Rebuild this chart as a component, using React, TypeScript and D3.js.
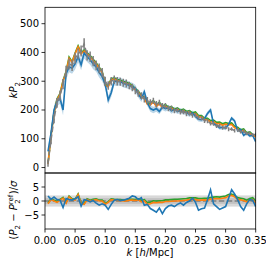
import * as d3 from 'd3';

// wavenumber grid [h/Mpc]
const kVals = [
  0.005, 0.01, 0.015, 0.02, 0.025, 0.03, 0.035, 0.04, 0.045, 0.05,
  0.055, 0.06, 0.065, 0.07, 0.075, 0.08, 0.085, 0.09, 0.095, 0.1,
  0.105, 0.11, 0.115, 0.12, 0.125, 0.13, 0.135, 0.14, 0.145, 0.15,
  0.155, 0.16, 0.165, 0.17, 0.175, 0.18, 0.185, 0.19, 0.195, 0.2,
  0.205, 0.21, 0.215, 0.22, 0.225, 0.23, 0.235, 0.24, 0.245, 0.25,
  0.255, 0.26, 0.265, 0.27, 0.275, 0.28, 0.285, 0.29, 0.295, 0.3,
  0.305, 0.31, 0.315, 0.32, 0.325, 0.33, 0.335, 0.34, 0.345, 0.35,
];

// reference kP2 (grey, dashed with error bars)
const refP2 = [
  15, 95, 170, 225, 250, 290, 335, 360, 355, 380,
  395, 405, 430, 390, 385, 370, 355, 345, 330, 300,
  285, 300, 305, 300, 298, 295, 292, 285, 278, 268,
  258, 250, 238, 234, 226, 232, 220, 226, 214, 214,
  206, 206, 198, 200, 193, 194, 187, 189, 181, 182,
  173, 172, 163, 162, 153, 152, 144, 145, 138, 140,
  133, 134, 128, 130, 124, 126, 118, 120, 114, 115,
];

const sigma = [
  12, 14, 16, 17, 18, 18, 19, 19, 19, 19,
  19, 19, 19, 18, 18, 18, 17, 17, 16, 16,
  15, 15, 15, 15, 14, 14, 14, 13, 13, 13,
  12, 12, 12, 11, 11, 11, 11, 10, 10, 10,
  10, 10, 9, 9, 9, 9, 9, 9, 8, 8,
  8, 8, 8, 8, 7, 7, 7, 7, 7, 7,
  7, 6, 6, 6, 6, 6, 6, 6, 6, 6,
];

const orangeP2 = [
  12, 110, 190, 235, 255, 300, 330, 380, 365, 395,
  420, 395, 405, 395, 385, 372, 360, 345, 330, 285,
  280, 305, 308, 302, 300, 295, 292, 288, 282, 270,
  262, 245, 240, 220, 218, 228, 212, 222, 208, 214,
  204, 207, 198, 202, 194, 198, 190, 193, 185, 188,
  176, 176, 166, 166, 158, 160, 152, 153, 147, 151,
  148, 150, 138, 135, 126, 129, 116, 119, 110, 108,
];

const greenP2 = [
  14, 112, 192, 238, 258, 303, 334, 384, 368, 398,
  423, 398, 409, 399, 389, 376, 364, 349, 334, 289,
  284, 309, 312, 306, 304, 299, 296, 292, 286, 274,
  266, 250, 245, 225, 223, 233, 217, 227, 213, 219,
  209, 212, 203, 207, 199, 203, 195, 198, 190, 193,
  181, 181, 171, 171, 163, 165, 157, 158, 152, 156,
  153, 155, 143, 140, 131, 134, 121, 124, 115, 113,
];

const blueP2 = [
  56, 120, 200, 230, 240, 200, 325, 350, 345, 360,
  385, 357, 398, 385, 375, 360, 350, 330, 316, 290,
  235, 260, 300, 298, 300, 292, 290, 285, 282, 275,
  255, 240, 263, 225, 205, 200, 205, 195, 210, 205,
  208, 197, 202, 195, 198, 193, 192, 185, 190, 178,
  168, 166, 170, 188, 200, 152, 148, 138, 140, 137,
  150, 172, 162, 128, 132, 112, 120, 110, 112, 90,
];

// normalised residuals (P2 - P2ref)/sigma
const blueRes = [
  1.8, 0.6, 1.4, 0.5, 0.3, -2.3, 0.9, 0.5, 0.3, 0.8,
  1.5, -1.8, 0.5, 0.3, -0.3, 0.2, -0.8, -1.5, -1.0, -1.5,
  -3.0, -1.2, 0.3, 0.5, 0.2, 0.3, 0.6, 1.0, 1.8, 1.5,
  0.5, 1.2, -1.5, -1.2, -2.7, -3.3, -4.0, -2.5, -4.5, -2.7,
  -1.8, -1.5, -2.0, -1.2, -0.7, -1.5, -0.5, 0.0, 1.0, -0.5,
  -3.3, -2.8, -2.5, 0.5, 4.0, -1.0, -2.0, -3.0, -2.5, -2.0,
  1.0, 4.0, 2.5, 0.5, -2.0, -3.3, -1.0, 0.5, 0.3, -2.0,
];

const orangeRes = [
  -1.0, 0.5, 0.0, -0.5, 0.3, 1.0, -0.8, 1.5, 0.5, 0.3,
  2.3, -1.0, -1.2, 0.5, 0.0, 0.3, 0.5, 0.0, 0.0, -1.2,
  -0.5, 0.5, 0.3, 0.2, 0.2, 0.0, 0.0, 0.3, 0.3, 0.2,
  0.4, -0.3, 0.0, -1.2, -1.0, -0.5, -0.6, -0.5, -0.5, -0.2,
  -0.2, -0.1, 0.0, 0.0, 0.1, 0.2, 0.3, 0.5, 0.5, 0.5,
  0.3, 0.3, 0.4, 0.3, 0.6, 0.8, 0.9, 0.8, 1.0, 1.2,
  1.8, 2.0, 1.5, 0.6, 0.4, 0.2, -0.3, 0.3, 0.5, -0.8,
];

const greenRes = [
  -0.7, 0.8, 0.3, -0.2, 0.6, 1.3, -0.5, 1.8, 0.8, 0.6,
  2.5, -0.7, -0.9, 0.8, 0.3, 0.6, 0.8, 0.3, 0.3, -0.9,
  -0.2, 0.8, 0.6, 0.5, 0.5, 0.3, 0.3, 0.6, 0.6, 0.5,
  0.8, 0.2, 0.5, -0.6, -0.4, 0.1, 0.0, 0.1, 0.1, 0.4,
  0.4, 0.5, 0.6, 0.6, 0.7, 0.8, 0.9, 1.1, 1.1, 1.1,
  0.9, 0.9, 1.0, 1.0, 1.2, 1.4, 1.5, 1.4, 1.6, 1.8,
  2.3, 2.5, 2.0, 1.2, 1.0, 0.8, 0.3, 0.9, 1.2, 0.0,
];

const xTicks = [0, 0.05, 0.1, 0.15, 0.2, 0.25, 0.3, 0.35];
const yTopTicks = [0, 100, 200, 300, 400, 500];
const yResTicks = [-5, 0, 5];

const BLUE = '#1f77b4';
const ORANGE = '#ff7f0e';
const GREEN = '#2ca02c';
const GREY = '#7f7f7f';

const left = 45;
const right = 255.7;
const topY = 7.3;
const midY = 173;
const botY = 229;

export default function App() {
  const x = d3.scaleLinear().domain([0, 0.35]).range([left, right]);
  const yTop = d3.scaleLinear().domain([-19, 557]).range([midY, topY]);
  const yRes = d3.scaleLinear().domain([-10, 10]).range([botY, midY]);

  const idx = d3.range(kVals.length);
  const lineTop = (vals: number[]) =>
    d3.line<number>().x(i => x(kVals[i])).y(i => yTop(vals[i]))(idx) as string;
  const lineRes = (vals: number[]) =>
    d3.line<number>().x(i => x(kVals[i])).y(i => yRes(vals[i]))(idx) as string;

  const band = d3.area<number>()
    .x(i => x(kVals[i]))
    .y0(i => yTop(blueP2[i] - sigma[i]))
    .y1(i => yTop(blueP2[i] + sigma[i]))(idx) as string;

  const font = { fontFamily: 'DejaVu Sans', fontSize: 10 };

  return (
    <svg width={266} height={266} style={{ position: 'absolute', left: 0, top: 0 }}>
      <rect width={266} height={266} fill="white" />
      <defs>
        <clipPath id="clipTop"><rect x={left} y={topY} width={right - left} height={midY - topY} /></clipPath>
        <clipPath id="clipRes"><rect x={left} y={midY} width={right - left} height={botY - midY} /></clipPath>
      </defs>

      {/* top panel */}
      <g clipPath="url(#clipTop)">
        <path d={band} fill={BLUE} opacity={0.3} />
        <path d={lineTop(greenP2)} fill="none" stroke={GREEN} strokeWidth={1.6} />
        <path d={lineTop(orangeP2)} fill="none" stroke={ORANGE} strokeWidth={1.6} />
        <path d={lineTop(blueP2)} fill="none" stroke={BLUE} strokeWidth={1.6} />
        {idx.map(i => (
          <line key={i} x1={x(kVals[i])} x2={x(kVals[i])}
            y1={yTop(refP2[i] - sigma[i])} y2={yTop(refP2[i] + sigma[i])}
            stroke={GREY} strokeWidth={1.5} />
        ))}
        <path d={lineTop(refP2)} fill="none" stroke={GREY} strokeWidth={1.5} strokeDasharray="5.5,2.4" />
      </g>

      {/* residual panel */}
      <g clipPath="url(#clipRes)">
        <rect x={left} width={right - left} y={yRes(2)} height={yRes(-2) - yRes(2)} fill={GREY} opacity={0.3} />
        <rect x={left} width={right - left} y={yRes(1)} height={yRes(-1) - yRes(1)} fill={GREY} opacity={0.25} />
        <line x1={left} x2={right} y1={yRes(0)} y2={yRes(0)} stroke={GREY} strokeWidth={1.5} strokeDasharray="5.5,2.4" />
        <path d={lineRes(greenRes)} fill="none" stroke={GREEN} strokeWidth={1.6} />
        <path d={lineRes(orangeRes)} fill="none" stroke={ORANGE} strokeWidth={1.6} />
        <path d={lineRes(blueRes)} fill="none" stroke={BLUE} strokeWidth={1.6} />
      </g>

      {/* frames */}
      <rect x={left} y={topY} width={right - left} height={midY - topY} fill="none" stroke="#000" strokeWidth={0.8} />
      <rect x={left} y={midY} width={right - left} height={botY - midY} fill="none" stroke="#000" strokeWidth={0.8} />

      {/* y ticks top */}
      {yTopTicks.map(t => (
        <g key={t}>
          <line x1={left - 3.5} x2={left} y1={yTop(t)} y2={yTop(t)} stroke="#000" strokeWidth={0.8} />
          <text x={left - 6} y={yTop(t)} dy="0.35em" textAnchor="end" {...font}>{t}</text>
        </g>
      ))}
      {/* y ticks residual */}
      {yResTicks.map(t => (
        <g key={t}>
          <line x1={left - 3.5} x2={left} y1={yRes(t)} y2={yRes(t)} stroke="#000" strokeWidth={0.8} />
          <text x={left - 6} y={yRes(t)} dy="0.35em" textAnchor="end" {...font}>{t < 0 ? `\u2212${-t}` : t}</text>
        </g>
      ))}
      {/* x ticks */}
      {xTicks.map(t => (
        <g key={t}>
          <line x1={x(t)} x2={x(t)} y1={botY} y2={botY + 3.5} stroke="#000" strokeWidth={0.8} />
          <text x={x(t)} y={botY + 14.5} textAnchor="middle" {...font}>{d3.format('.2f')(t)}</text>
        </g>
      ))}

      {/* axis labels */}
      <text x={150} y={255.5} textAnchor="middle" {...font}>
        <tspan fontStyle="italic">k</tspan> [<tspan fontStyle="italic">h</tspan>/Mpc]
      </text>
      <text transform={`translate(17,${(topY + midY) / 2}) rotate(-90)`} textAnchor="middle" {...font}>
        <tspan fontStyle="italic">kP</tspan><tspan fontSize={7} dy={2.5}>2</tspan>
      </text>
      <text transform={`translate(17,210) rotate(-90)`} textAnchor="middle" {...font}>
        (<tspan fontStyle="italic">P</tspan><tspan fontSize={7} dy={2.5}>2</tspan>
        <tspan dy={-2.5}> − </tspan><tspan fontStyle="italic">P</tspan>
        <tspan fontSize={7} dy={-4}>ref</tspan><tspan fontSize={7} dx={-9} dy={6.5}>2</tspan>
        <tspan dy={-2.5} dx={5}>)/</tspan><tspan fontStyle="italic">σ</tspan>
      </text>
    </svg>
  );
}
